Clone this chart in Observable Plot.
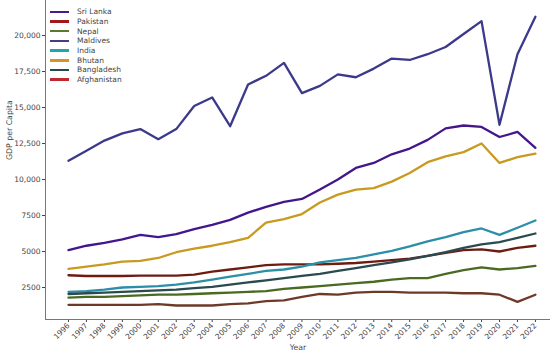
<!DOCTYPE html>
<html>
<head>
<meta charset="utf-8">
<script src="https://cdn.jsdelivr.net/npm/d3@7"></script>
<script src="https://cdn.jsdelivr.net/npm/@observablehq/plot@0.6"></script>
<style>
  html, body { margin: 0; padding: 0; background: #fff; }
  #wrap { position: relative; width: 550px; height: 356px; font-family: "DejaVu Sans", sans-serif; }
  #legend { position: absolute; left: 50px; top: 7px; font-size: 7.5px; color: #444; }
  #legend .row { display: flex; align-items: center; height: 9.7px; }
  #legend .sw { width: 19px; height: 2.5px; margin-right: 8px; }
</style>
</head>
<body>
<div id="wrap"><div id="legend"></div></div>
<script>
const years = d3.range(1996, 2023);
const countries = ["Sri Lanka", "Pakistan", "Nepal", "Maldives", "India", "Bhutan", "Bangladesh", "Afghanistan"];
const lineColors = ["#43168c", "#6e1c12", "#4a6a22", "#3b3a8a", "#2b8fa8", "#c89a20", "#2a4a50", "#6e3a28"];
const legendColors = ["#4b1a8a", "#a01a1a", "#5a7a30", "#4a3a8a", "#20a8a8", "#d4961e", "#1f4f48", "#c02830"];

const sriLanka = [5100, 5400, 5600, 5850, 6150, 6000, 6200, 6550, 6850, 7200, 7700, 8100, 8450, 8650, 9300, 10000, 10800, 11150, 11750, 12150, 12750, 13550, 13750, 13650, 12950, 13300, 12200];
const pakistan = [3350, 3300, 3300, 3300, 3320, 3330, 3330, 3400, 3600, 3750, 3900, 4050, 4100, 4100, 4100, 4150, 4200, 4300, 4400, 4500, 4700, 4900, 5100, 5150, 5000, 5250, 5400];
const nepal = [1800, 1850, 1850, 1900, 1950, 2000, 2000, 2050, 2100, 2150, 2200, 2250, 2400, 2500, 2600, 2700, 2800, 2900, 3050, 3150, 3150, 3450, 3700, 3900, 3750, 3850, 4000];
const maldives = [11300, 12000, 12700, 13200, 13500, 12800, 13500, 15100, 15700, 13700, 16600, 17200, 18100, 16000, 16500, 17300, 17100, 17700, 18400, 18300, 18700, 19200, 20100, 21000, 13800, 18700, 21300];
const india = [2200, 2250, 2350, 2500, 2550, 2600, 2700, 2850, 3050, 3250, 3450, 3650, 3750, 3950, 4250, 4400, 4550, 4800, 5050, 5350, 5700, 6000, 6350, 6600, 6150, 6650, 7150];
const bhutan = [3800, 3950, 4100, 4300, 4350, 4550, 4950, 5200, 5400, 5650, 5950, 7000, 7250, 7600, 8400, 8950, 9300, 9400, 9850, 10450, 11200, 11600, 11900, 12500, 11150, 11550, 11800];
const bangladesh = [2050, 2100, 2150, 2200, 2250, 2300, 2350, 2450, 2550, 2700, 2850, 3000, 3150, 3300, 3450, 3650, 3850, 4050, 4250, 4450, 4700, 4950, 5250, 5500, 5650, 5950, 6250];
const afghanistan = [1300, 1300, 1300, 1300, 1300, 1350, 1250, 1250, 1250, 1350, 1400, 1550, 1600, 1850, 2050, 2000, 2150, 2200, 2200, 2150, 2150, 2150, 2100, 2100, 2000, 1500, 2000];

const yTicks = [2500, 5000, 7500, 10000, 12500, 15000, 17500, 20000];

const series = [sriLanka, pakistan, nepal, maldives, india, bhutan, bangladesh, afghanistan];
const data = [];
countries.forEach((c, i) => years.forEach((y, j) => data.push({country: c, year: y, value: series[i][j]})));

const fmt = d => d >= 10000 ? d3.format(",")(d) : String(d);

const chart = Plot.plot({
  width: 550,
  height: 356,
  marginLeft: 45,
  marginRight: 0,
  marginTop: 0,
  marginBottom: 37,
  style: {fontFamily: "DejaVu Sans, sans-serif", fontSize: "7.5px", color: "#444", background: "white"},
  x: {domain: [1994.72, 2022.84], ticks: years, tickFormat: "d", tickRotate: -45, label: null, tickSize: 3, tickPadding: 2},
  y: {domain: [278, 22430], ticks: yTicks, tickFormat: fmt, label: null, tickSize: 3, tickPadding: 2},
  color: {domain: countries, range: lineColors},
  marks: [
    Plot.lineY(data, {x: "year", y: "value", stroke: "country", strokeWidth: 2.3, curve: "linear"}),
    Plot.ruleX([1994.72], {stroke: "#777", strokeWidth: 1}),
    Plot.ruleY([278], {stroke: "#777", strokeWidth: 1}),
    Plot.text(["GDP per Capita"], {frameAnchor: "left", rotate: -90, dx: -36, fontSize: 7.8, fill: "#444"}),
    Plot.text(["Year"], {frameAnchor: "bottom", dy: 30, fontSize: 7.8, fill: "#444"})
  ]
});
document.getElementById("wrap").prepend(chart);

const legend = document.getElementById("legend");
countries.forEach((c, i) => {
  const row = document.createElement("div");
  row.className = "row";
  row.innerHTML = `<span class="sw" style="background:${legendColors[i]}"></span><span>${c}</span>`;
  legend.appendChild(row);
});
</script>
</body>
</html>
